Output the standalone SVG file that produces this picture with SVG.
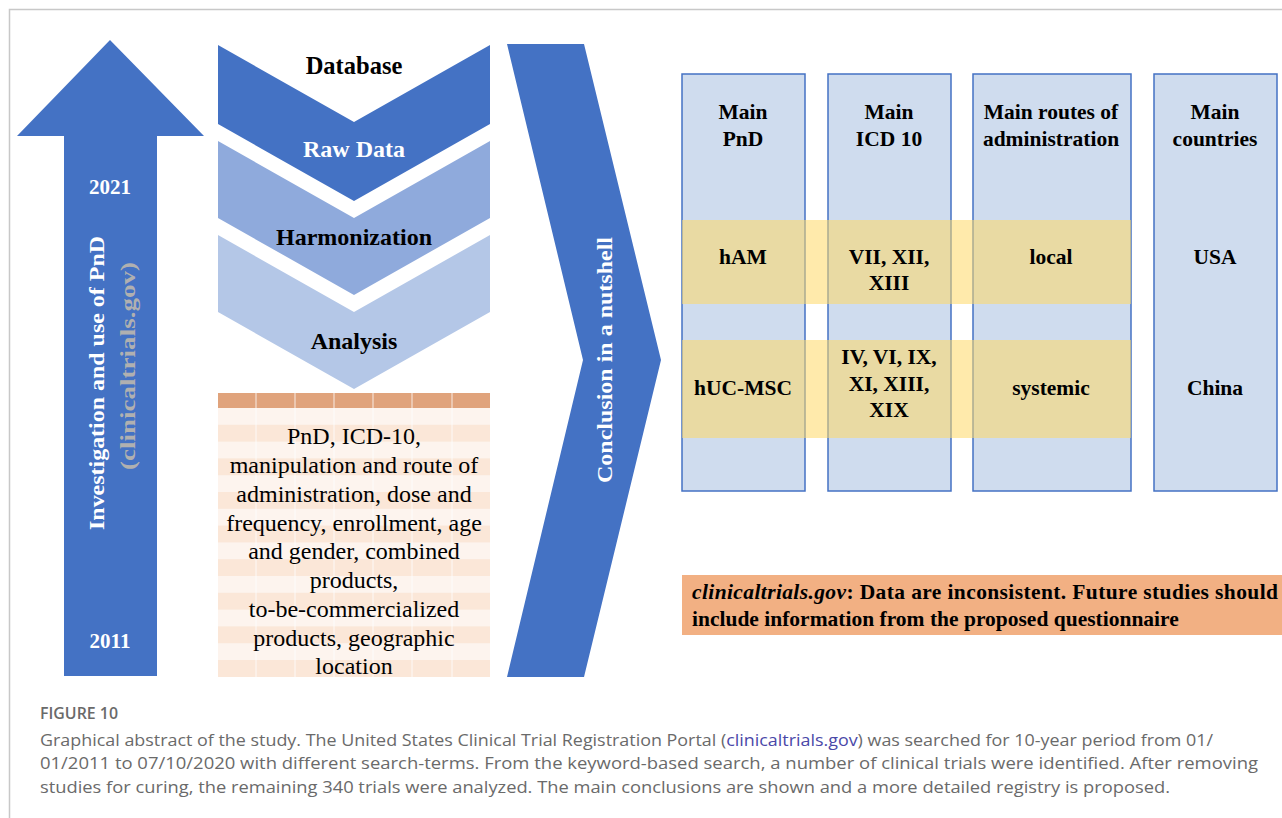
<svg xmlns="http://www.w3.org/2000/svg" width="1282" height="818" viewBox="0 0 1282 818">
<style>
.serif{font-family:"Liberation Serif","Times New Roman",serif}
.b{font-weight:bold}
.wt{fill:#ffffff}
.bk{fill:#000000}
.col{fill:#cfdcee;stroke:#4472c4;stroke-width:1.5}
.band{fill:#ffd966;opacity:0.55}
.cap{font-family:"Open Sans","Noto Sans",sans-serif;fill:#6a6a6a;font-size:16px}
</style>
<rect x="0" y="0" width="1282" height="818" fill="#ffffff"/>
<path d="M9.5 818 V9.5 H1282" fill="none" stroke="#c8c8c8" stroke-width="1.5"/>

<g id="timeline-arrow">
<polygon points="110,40 204,136 157,136 157,676 64,676 64,136 17,136" fill="#4472c4"/>
<text class="serif b wt" x="110" y="194" font-size="21" text-anchor="middle">2021</text>
<text class="serif b wt" x="110" y="648" font-size="21" text-anchor="middle">2011</text>
<text class="serif b wt" font-size="21" text-anchor="middle" textLength="294" lengthAdjust="spacingAndGlyphs" transform="translate(104,383) rotate(-90)">Investigation and use of PnD</text>
<text class="serif b" fill="#b0b0b0" font-size="21" text-anchor="middle" textLength="208" lengthAdjust="spacingAndGlyphs" transform="translate(135,366) rotate(-90)">(clinicaltrials.gov)</text>
</g>

<g id="chevron-database">
<polygon points="218,45 354,122 490,45 490,124 354,201 218,124" fill="#4472c4"/>
<text class="serif b bk" x="354" y="74" font-size="24.5" text-anchor="middle">Database</text>
<text class="serif b wt" x="354" y="157" font-size="24" text-anchor="middle">Raw Data</text>
</g>
<g id="chevron-harmonization">
<polygon points="218,141 354,218 490,141 490,218 354,295 218,218" fill="#8faadc"/>
<text class="serif b bk" x="354" y="245" font-size="24" text-anchor="middle">Harmonization</text>
</g>
<g id="chevron-analysis">
<polygon points="218,235 354,312 490,235 490,312 354,389 218,312" fill="#b4c7e7"/>
<text class="serif b bk" x="354" y="349" font-size="24" text-anchor="middle">Analysis</text>
</g>

<g id="variables-table">
<rect x="218" y="393" width="272" height="15" fill="#e0a37c"/>
<rect x="218" y="408" width="272" height="269" fill="#fdf4ee"/>
<g fill="#fbe7d8">
<rect x="218" y="424.8" width="272" height="16.8"/>
<rect x="218" y="458.4" width="272" height="16.8"/>
<rect x="218" y="492" width="272" height="16.8"/>
<rect x="218" y="525.6" width="272" height="16.8"/>
<rect x="218" y="559.2" width="272" height="16.8"/>
<rect x="218" y="592.8" width="272" height="16.8"/>
<rect x="218" y="626.4" width="272" height="16.8"/>
<rect x="218" y="660" width="272" height="17"/>
</g>
<g stroke="#ffffff" stroke-width="1" opacity="0.8">
<line x1="256" y1="393" x2="256" y2="677"/>
<line x1="295" y1="393" x2="295" y2="677"/>
<line x1="334" y1="393" x2="334" y2="677"/>
<line x1="373" y1="393" x2="373" y2="677"/>
<line x1="412" y1="393" x2="412" y2="677"/>
<line x1="452" y1="393" x2="452" y2="677"/>
</g>
<g class="serif bk" font-size="24" text-anchor="middle">
<text x="354" y="444">PnD, ICD-10,</text>
<text x="354" y="473">manipulation and route of</text>
<text x="354" y="502">administration, dose and</text>
<text x="354" y="531">frequency, enrollment, age</text>
<text x="354" y="559">and gender, combined</text>
<text x="354" y="588">products,</text>
<text x="354" y="617">to-be-commercialized</text>
<text x="354" y="646">products, geographic</text>
<text x="354" y="674">location</text>
</g>
</g>

<g id="conclusion-arrow">
<polygon points="507,44 584,44 661,360 584,677 507,677 583,360" fill="#4472c4"/>
<text class="serif b wt" font-size="21" text-anchor="middle" textLength="246" lengthAdjust="spacingAndGlyphs" transform="translate(612,360) rotate(-90)">Conclusion in a nutshell</text>
</g>

<g id="col-pnd"><rect class="col" x="682" y="74" width="123" height="417"/></g>
<g id="col-icd"><rect class="col" x="828" y="74" width="123" height="417"/></g>
<g id="col-routes"><rect class="col" x="973" y="74" width="158" height="417"/></g>
<g id="col-countries"><rect class="col" x="1154" y="74" width="123" height="417"/></g>
<g id="bands">
<rect class="band" x="682" y="220" width="449" height="84"/>
<rect class="band" x="682" y="340" width="449" height="98"/>
</g>
<g id="table-text" class="serif b bk" font-size="21.5" text-anchor="middle">
<text x="743" y="119">Main</text>
<text x="743" y="146">PnD</text>
<text x="889" y="119">Main</text>
<text x="889" y="146">ICD 10</text>
<text x="1051" y="119">Main routes of</text>
<text x="1051" y="146">administration</text>
<text x="1215" y="119">Main</text>
<text x="1215" y="146">countries</text>
<text x="743" y="264">hAM</text>
<text x="889" y="264">VII, XII,</text>
<text x="889" y="290">XIII</text>
<text x="1051" y="264">local</text>
<text x="1215" y="264">USA</text>
<text x="743" y="395">hUC-MSC</text>
<text x="889" y="364">IV, VI, IX,</text>
<text x="889" y="391">XI, XIII,</text>
<text x="889" y="417">XIX</text>
<text x="1051" y="395">systemic</text>
<text x="1215" y="395">China</text>
</g>

<g id="note-box">
<rect x="682" y="575" width="600" height="60" fill="#f2b083"/>
<text class="serif b bk" x="692" y="599" font-size="21.5" textLength="586" lengthAdjust="spacing"><tspan font-style="italic">clinicaltrials.gov</tspan>: Data are inconsistent. Future studies should</text>
<text class="serif b bk" x="692" y="626" font-size="21.5">include information from the proposed questionnaire</text>
</g>

<g id="caption">
<text class="cap" x="40" y="719" font-weight="600" fill="#5a5a5a" font-size="16" textLength="78" lengthAdjust="spacingAndGlyphs">FIGURE 10</text>
<text class="cap" x="40" y="746" textLength="1173" lengthAdjust="spacingAndGlyphs">Graphical abstract of the study. The United States Clinical Trial Registration Portal (<tspan fill="#4a48a8">clinicaltrials.gov</tspan>) was searched for 10-year period from 01/</text>
<text class="cap" x="40" y="769" textLength="1218" lengthAdjust="spacingAndGlyphs">01/2011 to 07/10/2020 with different search-terms. From the keyword-based search, a number of clinical trials were identified. After removing</text>
<text class="cap" x="40" y="793" textLength="1130" lengthAdjust="spacingAndGlyphs">studies for curing, the remaining 340 trials were analyzed. The main conclusions are shown and a more detailed registry is proposed.</text>
</g>
</svg>
